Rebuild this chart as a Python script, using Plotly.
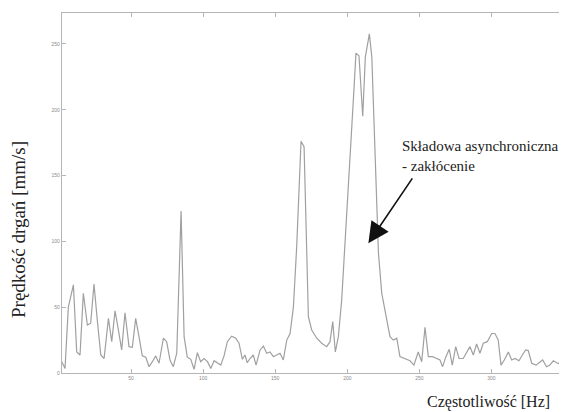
import plotly.graph_objects as go

freq_hz = [1.9, 4.2, 6.5, 10, 12.3, 14.6, 16.9, 19.7, 22, 24.3, 26.6, 29, 31.3, 34.3, 36.6,
           38.9, 41.2, 43.5, 45.8, 48.6, 50.9, 53.2, 55.5, 57.8, 60.2, 62.5, 64.8, 67.1, 69.4,
           72.4, 74.7, 77, 79.3, 81.7, 84.7, 86.8, 89, 91.4, 93.7, 96, 98.3, 100.6, 103, 105.3,
           107.6, 109.9, 112.2, 114.5, 116.8, 119.8, 122.6, 124.9, 127.2, 129, 130.6, 132.5,
           134.8, 136.7, 139.5, 141.8, 144.1, 146.4, 148.7, 151, 153.3, 155.6, 158, 160.3,
           162.6, 164.9, 166.7, 167.9, 170, 171.4, 173, 175.3, 178.8, 182.2, 185.7, 188, 189.9,
           191.7, 193.8, 196.1, 198.4, 200.7, 203, 204.7, 206, 208.1, 210.7, 212.5, 215.3, 217,
           218.5, 220.2, 221.6, 223.9, 227.3, 229.6, 231.9, 234.3, 236.5, 240, 243.5, 246.2,
           249.2, 251.6, 253.9, 256.2, 259.2, 262, 264.3, 266.1, 268.4, 270.7, 272.8, 275.2,
           277.5, 280.4, 282.8, 285.1, 287.4, 289.7, 292, 294.3, 297.1, 300.1, 302.4, 304.7,
           306.6, 308.9, 311.7, 314, 316.3, 319.1, 321.4, 323.7, 325.5, 327.9, 330.9, 333.6,
           335.5, 338.2, 340.5, 342.9, 345.2, 348, 351]

velocity = [8.6, 3.5, 50, 67, 16, 13.7, 60.6, 36.5, 37.8, 67.6, 40, 13.7, 11, 41.5, 23.8,
            47.3, 32.7, 17.5, 45.8, 20, 19.5, 41.5, 27.6, 13, 12, 4.8, 8.6, 13, 7.4,
            26.4, 23.8, 9.9, 4.8, 15, 123, 27.6, 12, 10.4, 2.8, 15.4, 8.6, 11, 8.6, 3.5,
            9.3, 7.4, 6, 13, 23.8, 28, 26.4, 22.6, 10.4, 13.7, 7.8, 11,
            13.7, 6, 17.5, 20.5, 15, 16, 12.4, 13.7, 15, 9.9, 25, 30,
            50, 96, 141.6, 176, 172, 116, 42.8, 32.7, 26.4, 22.6, 20, 23.8, 39,
            16, 27.6, 55.5, 96, 141.6, 185, 217, 243, 241, 195, 240, 257.6, 240,
            192, 121, 91, 60.5, 40, 27.6, 25, 26.4, 12.4, 11, 9.3, 6,
            16, 8.6, 34.7, 12.4, 12.4, 11, 9.9, 4.8, 12.4, 18, 6, 20,
            11, 11, 16, 20, 13.7, 22, 15, 22.6, 23.8, 30, 30, 25,
            6, 9.9, 16, 9.9, 11, 9.3, 13.7, 17.5, 17, 7.4, 6, 8.6,
            9.9, 4.8, 6, 9.3, 7.8, 6.8, 6]

x_ticks = [50, 100, 150, 200, 250, 300]
y_ticks = [0, 50, 100, 150, 200, 250]

fig = go.Figure()
fig.add_trace(go.Scatter(x=freq_hz, y=velocity, mode="lines",
                         line=dict(color="#a0a0a0", width=1.2), showlegend=False,
                         hoverinfo="skip"))

axis_common = dict(showline=True, linecolor="#b5b5b5", linewidth=1.2, mirror="ticks",
                   ticks="inside", ticklen=4, tickcolor="#b5b5b5", showgrid=False,
                   zeroline=False, tickfont=dict(size=5, color="#8a8a8a",
                                                 family="Liberation Sans"))

# page body has an 8px margin, so the figure is sized and offset to compensate
fig.update_layout(
    width=559, height=404,
    margin=dict(l=54, r=2, t=5, b=39),
    paper_bgcolor="white", plot_bgcolor="white",
    xaxis=dict(range=[2.1, 351], tickvals=x_ticks, **axis_common),
    yaxis=dict(range=[0, 273.5], tickvals=y_ticks, **axis_common),
)

fig.add_annotation(text="Składowa asynchroniczna<br>- zakłócenie", xref="x", yref="y",
                   x=236.5, y=165.0, xanchor="left", yanchor="middle", align="left",
                   showarrow=False,
                   font=dict(family="Liberation Serif", size=15, color="#222"))
fig.add_annotation(x=214.6, y=98.6, ax=245.8, ay=149, xref="x", yref="y",
                   axref="x", ayref="y", text="", showarrow=True, arrowhead=2,
                   arrowsize=2.6, arrowwidth=1.6, arrowcolor="#111")
fig.add_annotation(text="Prędkość drgań [mm/s]", xref="paper", yref="paper",
                   x=-0.0875, y=0.40, textangle=-90, showarrow=False,
                   xanchor="center", yanchor="middle",
                   font=dict(family="Liberation Serif", size=19, color="#222"))
fig.add_annotation(text="Częstotliwość [Hz]", xref="paper", yref="paper",
                   x=0.974, y=-0.08, showarrow=False, xanchor="right", yanchor="middle",
                   font=dict(family="Liberation Serif", size=16, color="#222"))

fig.write_html("out.html")
